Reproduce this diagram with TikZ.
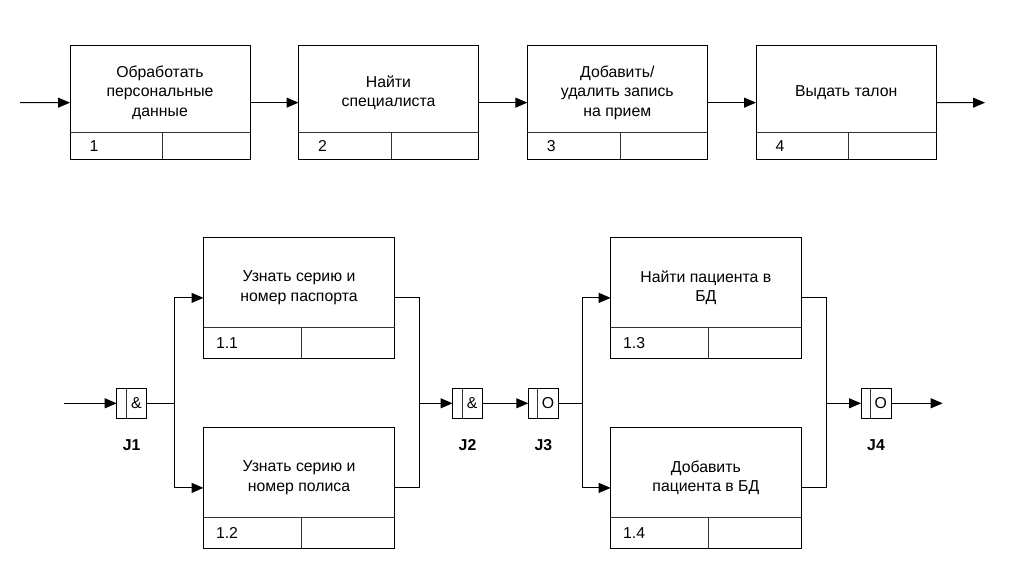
\documentclass[tikz,border=0pt]{standalone}
\usepackage{fontspec}
\setmainfont{Liberation Sans}
\usetikzlibrary{arrows.meta}
\newcommand\divh{27}
\newcommand\numoff{19}
\newcommand\pbox[7]{%
  \node[pbx, minimum width={#4*1pt}, minimum height={#5*1pt}] (#1) at ({#2+#4/2},{#3+#5/2}) {};
  \draw[divl] ({#2},{#3+#5-\divh}) -- ({#2+#4},{#3+#5-\divh});
  \draw[divl] ({#2+0.515*#4},{#3+#5-\divh}) -- ({#2+0.515*#4},{#3+#5});
  \node[txt] (#1t) at ({#2+#4/2},{#3+#5/2-10}) {#6};
  \node[num] (#1n) at ({#2+\numoff},{#3+#5-\divh/2}) {#7};
}
\newcommand\junc[4]{%
  \node[jbx] (#1) at ({#2+15},403.3) {};
  \draw[divl] ({#2+9.5},388.3) -- ({#2+9.5},418.3);
  \node[txt] (#1s) at ({#2+19.75},403.3) {#3};
  \node[jl] (#1l) at ({#2+15},445) {#4};
}
\begin{document}
\begin{tikzpicture}[x=1pt,y=-1pt,line width=1pt,
  arr/.style={-{Triangle[length=12pt,width=10pt]}},
  pbx/.style={draw, rectangle, inner sep=0, outer sep=0},
  jbx/.style={draw, rectangle, inner sep=0, outer sep=0, minimum width=30pt, minimum height=30pt},
  divl/.style={draw=black!80},
  txt/.style={font=\fontsize{15.8}{19.6}\selectfont, align=center, inner sep=0},
  num/.style={font=\fontsize{15.8}{19.6}\selectfont, anchor=west, inner sep=0},
  jl/.style={font=\fontsize{15.8}{19.6}\selectfont\bfseries, inner sep=0}]
\useasboundingbox (0,0) rectangle (1022,561);
% top row
\renewcommand\divh{27}\renewcommand\numoff{19}
\pbox{b1}{70}{46}{180}{113.3}{Обработать\\персональные\\данные}{1}
\pbox{b2}{298.5}{46}{180}{113.3}{Найти\\специалиста}{2}
\pbox{b3}{527.3}{46}{180}{113.3}{Добавить/\\удалить запись\\на прием}{3}
\pbox{b4}{756}{46}{180.5}{113.3}{Выдать талон}{4}
\coordinate (tin) at (20,102.7);
\coordinate (tout) at (985,102.7);
\draw[arr] (tin) -- (b1);
\draw[arr] (b1) -- (b2);
\draw[arr] (b2) -- (b3);
\draw[arr] (b3) -- (b4);
\draw[arr] (b4) -- (tout);
% bottom row
\renewcommand\divh{30.5}\renewcommand\numoff{12}
\pbox{b11}{203.5}{237.5}{191}{120.8}{Узнать серию и\\номер паспорта}{1.1}
\pbox{b12}{203.5}{427.5}{191}{120.8}{Узнать серию и\\номер полиса}{1.2}
\pbox{b13}{610.7}{237.5}{190.3}{120.8}{Найти пациента в\\БД}{1.3}
\pbox{b14}{610.7}{427.5}{190.3}{120.8}{Добавить\\пациента в БД}{1.4}
\junc{j1}{116.7}{\&}{J1}
\junc{j2}{452.5}{\&}{J2}
\junc{j3}{528.3}{O}{J3}
\junc{j4}{861}{O}{J4}
\coordinate (jin) at (64,403.3);
\coordinate (s1) at (174,403.3);
\coordinate (m1) at (419.3,403.3);
\coordinate (s2) at (582.7,403.3);
\coordinate (m2) at (826,403.3);
\coordinate (jout) at (942.7,403.3);
\draw[arr] (jin) -- (j1);
\draw (j1) -- (s1);
\draw[arr] (s1) |- (b11);
\draw[arr] (s1) |- (b12);
\draw (b11) -| (m1);
\draw (b12) -| (m1);
\draw[arr] (m1) -- (j2);
\draw[arr] (j2) -- (j3);
\draw (j3) -- (s2);
\draw[arr] (s2) |- (b13);
\draw[arr] (s2) |- (b14);
\draw (b13) -| (m2);
\draw (b14) -| (m2);
\draw[arr] (m2) -- (j4);
\draw[arr] (j4) -- (jout);
\end{tikzpicture}
\end{document}
